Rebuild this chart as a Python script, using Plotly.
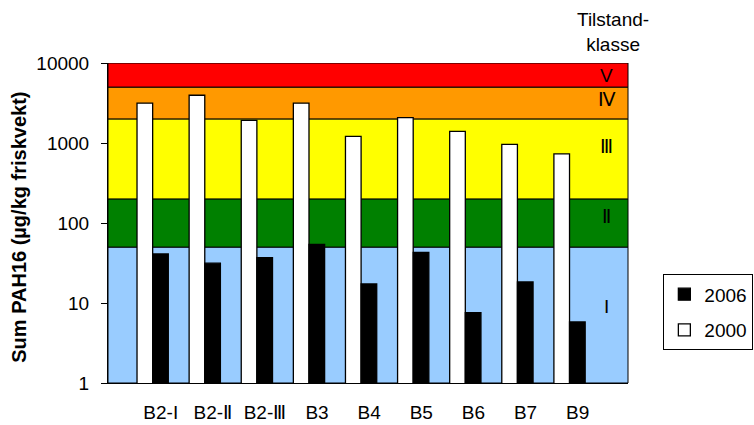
import math
import plotly.graph_objects as go

# Sediment stations and Sum PAH16 (µg/kg wet weight)
stations = ["B2-I", "B2-Ⅱ", "B2-Ⅲ", "B3", "B4", "B5", "B6", "B7", "B9"]
pah_2000 = [3150, 3950, 1920, 3150, 1210, 2080, 1400, 960, 730]
pah_2006 = [41, 31.5, 37, 54, 17.3, 43, 7.6, 18.3, 5.8]

# Condition classes (lower, upper limit) and their colours
class_names = ["I", "Ⅱ", "Ⅲ", "Ⅳ", "V"]
class_lower = [1, 50, 200, 2000, 5000]
class_upper = [50, 200, 2000, 5000, 10000]
class_colors = ["#99CCFF", "#008000", "#FFFF00", "#FF9900", "#FF0000"]
class_label_y = [9, 120, 900, 3520, 7000]

y_ticks = [1, 10, 100, 1000, 10000]
y_ticktext = ["1", "10", "100", "1000", "10000"]

FONT = "Liberation Sans, Arial, sans-serif"
x_pos = list(range(len(stations)))
bar_w = 0.3

fig = go.Figure()

fig.add_trace(go.Bar(
    x=x_pos, y=pah_2000, name="2000", width=bar_w, offset=-bar_w,
    marker=dict(color="white", line=dict(color="black", width=1.3)),
    legendgroup="a2000", legendrank=2,
))
fig.add_trace(go.Bar(
    x=x_pos, y=pah_2006, name="2006", width=bar_w, offset=0,
    marker=dict(color="black", line=dict(color="black", width=1.3)),
    legendgroup="a2006", legendrank=1,
))

# Background bands for the condition classes
for lo, hi, col in zip(class_lower, class_upper, class_colors):
    fig.add_shape(
        type="rect", xref="paper", x0=0, x1=1, yref="y", y0=lo, y1=hi,
        fillcolor=col, line=dict(color="black", width=1), layer="below",
    )

# Class labels at the right edge
for name, yv in zip(class_names, class_label_y):
    fig.add_annotation(
        text=name, xref="paper", x=0.9596, yref="y", y=math.log10(yv),
        showarrow=False, xanchor="center", yanchor="middle",
        font=dict(family=FONT, size=19, color="black"),
    )

fig.add_annotation(
    text="Tilstand-<br>klasse", xref="paper", x=0.9707, yref="paper", y=1.096,
    showarrow=False, xanchor="center", yanchor="middle",
    font=dict(family=FONT, size=19, color="black"),
)

fig.add_annotation(
    text="<b>Sum PAH16 (µg/kg friskvekt)</b>", textangle=-90,
    xref="paper", x=0, xshift=-88.4, yref="paper", y=0.487,
    showarrow=False, xanchor="center", yanchor="middle",
    font=dict(family=FONT, size=20, color="black"),
)

fig.update_layout(
    width=754, height=425,
    margin=dict(l=108.4, r=126.3, t=62.7, b=42.3, autoexpand=False),
    paper_bgcolor="white", plot_bgcolor="white",
    barmode="overlay",
    font=dict(family=FONT, size=19, color="black"),
    showlegend=True,
    legend=dict(
        x=1.068, y=0.3397, xanchor="left", yanchor="top",
        bordercolor="black", borderwidth=1, bgcolor="white",
        font=dict(family=FONT, size=19, color="black"),
        tracegroupgap=8,
    ),
    xaxis=dict(
        range=[-0.857, 9.122], showgrid=False, zeroline=False,
        showline=True, linecolor="black", linewidth=1,
        tickvals=[p + 0.155 for p in x_pos], ticktext=stations,
        ticks="", ticklabelstandoff=12,
    ),
    yaxis=dict(
        type="log", range=[0, 4], showgrid=False, zeroline=False,
        showline=True, linecolor="black", linewidth=1,
        tickvals=y_ticks, ticktext=y_ticktext,
        ticks="outside", ticklen=6, tickcolor="black",
        ticklabelstandoff=8,
    ),
)

fig.write_html("out.html")
